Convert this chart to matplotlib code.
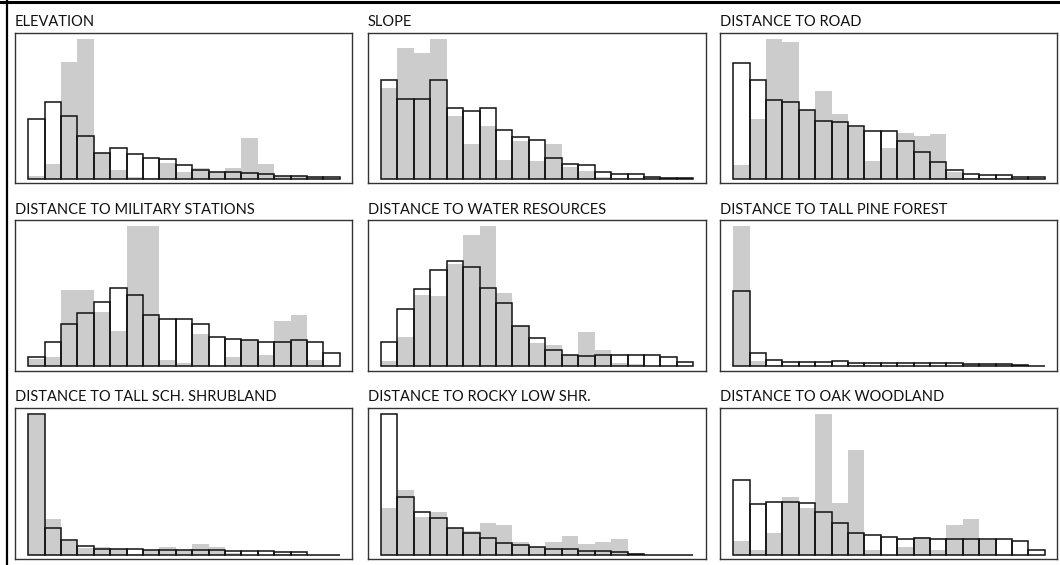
import matplotlib
matplotlib.use("Agg")
import matplotlib.pyplot as plt
from matplotlib.lines import Line2D
import numpy as np

titles = ["ELEVATION", "SLOPE", "DISTANCE TO ROAD",
          "DISTANCE TO MILITARY STATIONS", "DISTANCE TO WATER RESOURCES", "DISTANCE TO TALL PINE FOREST",
          "DISTANCE TO TALL SCH. SHRUBLAND", "DISTANCE TO ROCKY LOW SHR.", "DISTANCE TO OAK WOODLAND"]

elev_gray = [2, 10.5, 83.6, 100, 18.3, 6.2, 1, 0.5, 11.2, 4.5, 7.6, 5, 7.6, 28.8, 10.5, 1.7, 1.7, 1, 0.5]
elev_line = [42.6, 54.8, 45, 30.2, 18.3, 21.9, 17.6, 15, 14, 9.5, 6.2, 5.2, 5.2, 4.3, 3.6, 1.9, 1.9, 1.2, 1.2]

slope_gray = [64.5, 93.3, 89.5, 100, 44.5, 24.8, 37.9, 13.6, 27.1, 12.9, 24.8, 8.1, 5.5, 1.2, 0.5, 0.5, 1, 0, 0]
slope_line = [70.7, 56.9, 56.9, 70.7, 50.2, 48.3, 50.2, 35, 29.5, 27.6, 15, 10.5, 9.5, 5, 3.6, 3.6, 1.2, 0.3, 0.3]

road_gray = [9.5, 42.9, 100, 97.6, 49.3, 62.9, 46.2, 36.7, 13, 21.9, 32.6, 30.5, 31.9, 4.8, 0.5, 0.5, 0.5, 0.3, 0.3]
road_line = [82.4, 70.7, 56, 54.8, 49.3, 41, 40.5, 37.4, 34, 34, 26.7, 19.3, 11.7, 6, 3.6, 2.4, 2.4, 1, 1]

mil_gray = [5, 7, 54.5, 54.5, 38.9, 25.6, 100, 100, 4.7, 2.4, 23, 0, 7.1, 18.7, 8, 32.2, 37, 4.7, 0]
mil_line = [7.1, 17.1, 30.3, 37.9, 46, 55.7, 50.9, 36.7, 34.1, 34.1, 30.1, 21.1, 19.4, 18.7, 17.8, 17.8, 18.7, 17.8, 9.5]

water_gray = [4, 21.3, 51, 50.2, 73, 93.4, 100, 52.6, 29.1, 16.4, 15.4, 8, 24.6, 11.6, 2.4, 1.9, 0.5, 0, 0]
water_line = [17.1, 41, 55, 69, 75.4, 70.6, 55.7, 45, 29.1, 20.1, 12.1, 8, 7.6, 8.5, 8.5, 8.5, 8.5, 6.9, 3.1]

pine_gray = [100, 4, 1, 0.5, 0.5, 0.5, 0.5, 0.5, 0.5, 0.5, 0.5, 0.5, 0.5, 0.5, 1.5, 1.5, 1.5, 0.5, 0]
pine_line = [54, 9.5, 4.7, 3.3, 3.3, 3.3, 3.8, 2.8, 2.8, 2.8, 2.8, 2.8, 2.8, 2.8, 2.1, 2.1, 2.1, 1.2, 0.5]

shrub_gray = [99, 25, 9.5, 4.8, 5.7, 3.8, 0.5, 3.3, 5.7, 3.3, 7.4, 5.7, 1, 0, 0, 0.5, 0.5, 0, 0]
shrub_line = [100, 18.8, 10.2, 6.2, 4, 4, 4, 3.3, 3.3, 3.3, 3.3, 3.3, 2.9, 2.9, 2.9, 2.1, 2.1, 0, 0]

rocky_gray = [33, 46.2, 26.8, 30.4, 19.1, 16.7, 22.7, 21, 9.1, 5.5, 9.3, 13.4, 7.9, 9.3, 11, 1.2, 0, 0, 0]
rocky_line = [100, 40.7, 30.6, 25.8, 19.1, 15.1, 11.7, 8.4, 7.2, 5.7, 4.1, 4.1, 2.6, 2.6, 1.7, 0.7, 0, 0, 0]

oak_gray = [9.6, 3.6, 15.6, 41.1, 33, 100, 36.4, 74.4, 3.6, 0, 5.3, 12.9, 3.6, 21, 25.4, 10.5, 0, 0, 0]
oak_line = [53.3, 35.9, 37.6, 37.6, 36.8, 30.1, 22.7, 15.1, 13.9, 12.4, 11.5, 12, 11.5, 11.5, 11.5, 11.5, 11.5, 10, 3.6]

gray_series = [elev_gray, slope_gray, road_gray, mil_gray, water_gray, pine_gray, shrub_gray, rocky_gray, oak_gray]
line_series = [elev_line, slope_line, road_line, mil_line, water_line, pine_line, shrub_line, rocky_line, oak_line]

W, H = 1060, 565
fig = plt.figure(figsize=(W / 100, H / 100), dpi=100)
fig.patch.set_facecolor("white")

col_lr = [(15, 352), (367.7, 705.7), (720, 1057)]
row_tb = [(33, 183), (220.5, 370.7), (408, 559)]

plt.rcParams['font.family'] = ['Lato', 'DejaVu Sans']

for i in range(9):
    r, c = divmod(i, 3)
    l, rr = col_lr[c]
    t, b = row_tb[r]
    ax = fig.add_axes([l / W, 1 - b / H, (rr - l) / W, (b - t) / H])
    g = gray_series[i]
    ln = line_series[i]
    x = np.arange(len(g))
    ax.bar(x, g, width=1.0, align="edge", color="#cccccc", edgecolor="none", zorder=1)
    ax.bar(x, ln, width=1.0, align="edge", facecolor="none", edgecolor="#111111",
           linewidth=1.1, zorder=2)
    ax.set_xlim(-0.8, len(g) + 0.75)
    ax.set_ylim(-3.0, 104.0)
    ax.set_xticks([])
    ax.set_yticks([])
    for s in ax.spines.values():
        s.set_color("#333333")
        s.set_linewidth(1.0)
    fig.text(l / W, 1 - (t - 4) / H, titles[i], fontsize=10.5, color="#111111",
             ha="left", va="bottom")

# outer frame lines (top and left)
fig.add_artist(Line2D([0, 1], [1 - 2 / H, 1 - 2 / H], color="black", linewidth=2.2,
                      transform=fig.transFigure))
fig.add_artist(Line2D([7 / W, 7 / W], [0, 1], color="black", linewidth=1.6,
                      transform=fig.transFigure))

fig.savefig("out.png", dpi=100)
